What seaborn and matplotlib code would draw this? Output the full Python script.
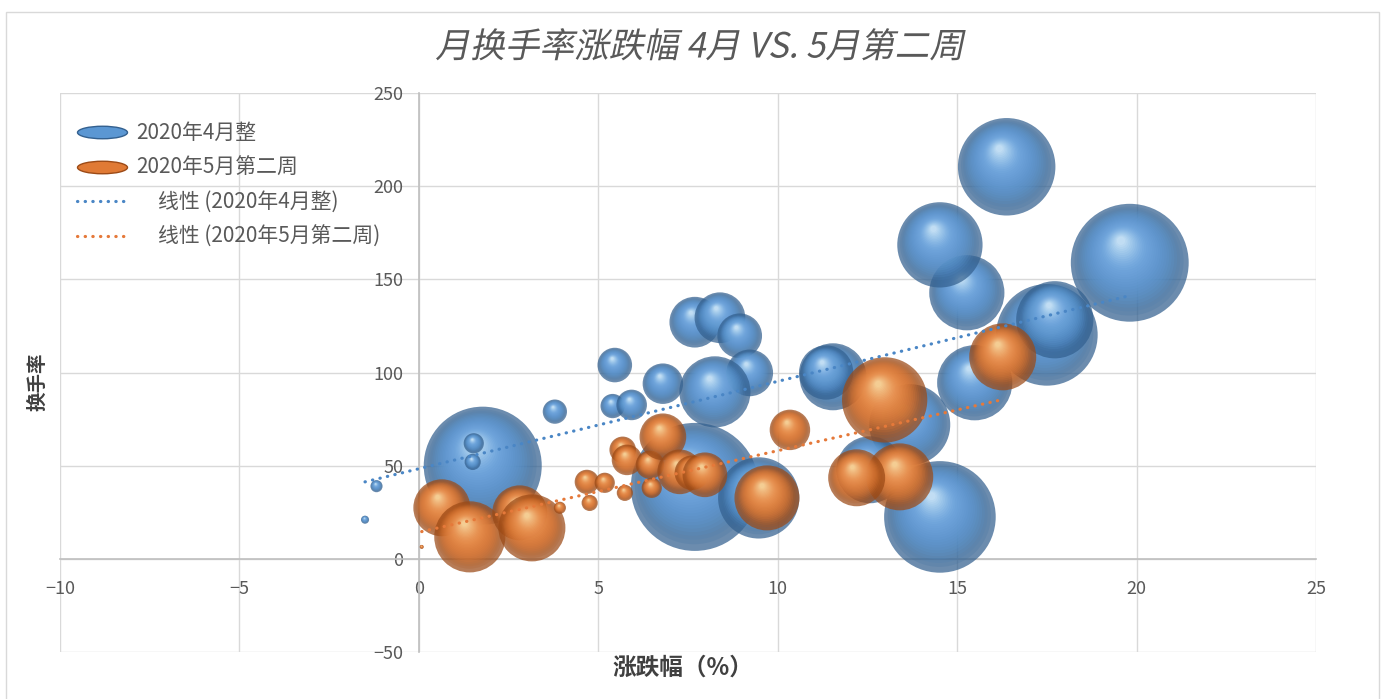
import numpy as np
import matplotlib
matplotlib.use("Agg")
import matplotlib.pyplot as plt
import seaborn as sns
from matplotlib.colors import to_rgba, LinearSegmentedColormap
from matplotlib.lines import Line2D
from matplotlib.path import Path
from matplotlib.patches import Rectangle
from matplotlib.patheffects import AbstractPathEffect
from matplotlib.transforms import Affine2D

# ---- data -------------------------------------------------------------
series_names = ["2020年4月整", "2020年5月第二周"]

# 2020年4月整: 涨跌幅(%), 换手率, bubble value
apr_x = [1.78, 1.53, 1.50, -1.18, -1.50, 3.79, 5.46, 5.40, 5.93, 6.80,
         7.69, 8.39, 8.94, 9.22, 8.25, 7.69, 9.47, 11.54, 11.35, 13.68,
         12.57, 14.52, 15.49, 15.27, 14.52, 16.38, 17.50, 17.72, 19.81]
apr_y = [50.0, 62.0, 52.0, 39.0, 21.0, 79.0, 104.0, 82.0, 82.6, 94.0,
         127.0, 129.4, 119.7, 99.8, 89.6, 38.6, 32.7, 97.7, 100.0, 72.0,
         47.8, 22.5, 94.5, 142.8, 168.5, 210.4, 120.2, 128.3, 158.9]
apr_size = [85, 2.5, 1.6, 0.9, 0.4, 3.6, 7.3, 3.6, 5.7, 10,
            15.7, 15.7, 12.2, 13.3, 30.9, 100, 40.3, 27.4, 18, 40,
            27.4, 76, 34.5, 34.5, 44.4, 58, 63, 36.4, 84.8]

# 2020年5月第二周
may_x = [0.64, 1.42, 2.81, 3.15, 3.93, 0.08, 4.68, 4.76, 5.18, 5.74,
         5.68, 5.80, 6.44, 6.49, 6.80, 7.27, 7.61, 7.97, 9.70, 10.34,
         12.98, 13.40, 12.20, 16.27]
may_y = [27.4, 11.8, 24.7, 16.6, 27.4, 6.4, 41.3, 30.0, 40.8, 35.4,
         58.5, 53.1, 50.5, 38.1, 65.5, 46.7, 46.2, 45.1, 32.7, 69.2,
         85.3, 44.0, 43.5, 108.4]
may_size = [19.8, 30.9, 18.4, 27.4, 0.9, 0.1, 3.6, 1.6, 2.5, 1.6,
            4.3, 5.7, 4.9, 2.5, 13.3, 12.2, 7.3, 12.2, 25.8, 10,
            44.4, 27.4, 19.8, 27.4]

title_text = "月换手率涨跌幅 4月 VS. 5月第二周"
x_title = "涨跌幅（%）"
y_title = "换手率"
x_ticks = [-10, -5, 0, 5, 10, 15, 20, 25]
y_ticks = [-50, 0, 50, 100, 150, 200, 250]

# ---- style ------------------------------------------------------------
sns.set_theme(style="white")
plt.rcParams["font.family"] = ["Noto Sans CJK SC", "DejaVu Sans"]

W, H, DPI = 1383, 699, 100
TXT = "#595959"
BLUE = dict(dark="#33608f", base="#5b97d3", mid="#78aee2", light="#e2f6ff")
ORANGE = dict(dark="#9c4a16", base="#e07a35", mid="#ee9a5a", light="#fde6b0")
BLUE_LINE = "#4a86c5"
ORANGE_LINE = "#e5793a"

fig = plt.figure(figsize=(W / DPI, H / DPI), dpi=DPI)
fig.patch.set_facecolor("white")
ax = fig.add_axes([60 / W, 1 - 652 / H, (1316 - 60) / W, (652 - 93) / H])
ax.set_xlim(-10, 25)
ax.set_ylim(-50, 250)

pos = ax.get_position()
px_per_x = pos.width * W / 35.0
px_per_y = pos.height * H / 300.0

v_max = max(max(apr_size), max(may_size))
R_MAX = 64.0  # radius in pixels of the largest bubble
N_LAYERS = 30


def draw_bubbles(xs, ys, vals, pal):
    """Each bubble is a stack of shrinking discs shifted toward the glint."""
    cmap = LinearSegmentedColormap.from_list(
        "shade", [(0.0, pal["dark"]), (0.12, pal["base"]),
                  (0.55, pal["mid"]), (1.0, pal["light"])])
    t = np.linspace(0, 1, N_LAYERS)
    frac = 1 - 0.93 * t ** 0.75
    alphas = np.where(t == 0, 0.72, 0.2)
    cols = [to_rgba(cmap(tt), a) for tt, a in zip(t, alphas)]
    for x0, y0, v in zip(xs, ys, vals):
        r = R_MAX * np.sqrt(v / v_max)
        lx = x0 + (-0.16 * (1 - frac) * r) / px_per_x
        ly = y0 + (0.4 * (1 - frac) * r) / px_per_y
        ls = (2 * r * frac * 72 / DPI) ** 2
        sns.scatterplot(x=lx, y=ly, s=ls, facecolors=cols, edgecolor="none",
                        linewidth=0, ax=ax, zorder=3, legend=False)


draw_bubbles(apr_x, apr_y, apr_size, BLUE)
draw_bubbles(may_x, may_y, may_size, ORANGE)

# linear trend lines
dot = (0, (0.1, 2.3))
for xs, ys, c in [(apr_x, apr_y, BLUE_LINE), (may_x, may_y, ORANGE_LINE)]:
    sns.regplot(x=np.array(xs), y=np.array(ys), scatter=False, ci=None,
                truncate=True, color=c, ax=ax,
                line_kws=dict(linestyle=dot, linewidth=2.3,
                              dash_capstyle="round", zorder=6))

ax.set_xlim(-10, 25)
ax.set_ylim(-50, 250)
ax.set_xticks(x_ticks)
ax.set_yticks(y_ticks)
ax.set_xlabel("")
ax.set_ylabel("")

# axes cross at the origin
for s in ["top", "right"]:
    ax.spines[s].set_visible(False)
ax.spines["left"].set_position(("data", 0))
ax.spines["bottom"].set_position(("data", 0))
for s in ["left", "bottom"]:
    ax.spines[s].set_color("#bfbfbf")
    ax.spines[s].set_linewidth(1.2)
    ax.spines[s].set_zorder(1)
ax.grid(True, color="#d9d9d9", linewidth=1)
ax.set_axisbelow(True)
ax.tick_params(axis="both", length=0, labelsize=13, colors=TXT)
ax.tick_params(axis="x", pad=15)
ax.tick_params(axis="y", pad=11)


class Slant(AbstractPathEffect):
    """Shear glyph outlines to give an oblique face."""

    def __init__(self, deg=12):
        super().__init__()
        self.deg = deg

    def draw_path(self, renderer, gc, tpath, affine, rgbFace=None):
        renderer.draw_path(gc, tpath, Affine2D().skew_deg(self.deg, 0) + affine,
                           rgbFace)


fig.text(0.506, 1 - 48 / H, title_text, ha="center", va="center",
         fontsize=25, color=TXT, path_effects=[Slant(12)])
fig.text(683 / W, 1 - 668 / H, x_title, ha="center", va="center",
         fontsize=17, fontweight="bold", color="#404040")
fig.text(38 / W, 1 - 382 / H, y_title, ha="center", va="center",
         rotation=90, fontsize=14, fontweight="bold", color="#404040")

# legend: bubble series, then trend lines
oval = Path(Affine2D().scale(1, 0.25).transform(Path.unit_circle().vertices),
            Path.unit_circle().codes)
bubble_handles = [
    Line2D([], [], linestyle="none", marker=oval, markersize=36,
           markerfacecolor=pal["base"], markeredgecolor=pal["dark"])
    for pal in (BLUE, ORANGE)
]
line_handles = [
    Line2D([], [], color=c, linestyle=dot, linewidth=2.3, dash_capstyle="round")
    for c in (BLUE_LINE, ORANGE_LINE)
]
common = dict(loc="upper left", frameon=False, fontsize=15, labelcolor=TXT,
              handlelength=2.4, labelspacing=0.62, borderpad=0,
              borderaxespad=0)
leg1 = fig.legend(bubble_handles, series_names,
                  bbox_to_anchor=(77 / W, 1 - 122 / H),
                  handletextpad=0.45, **common)
leg2 = fig.legend(line_handles,
                  [f"线性 ({n})" for n in series_names],
                  bbox_to_anchor=(77 / W, 1 - 191 / H),
                  handletextpad=1.5, **common)

# outer chart border
fig.add_artist(Rectangle((6 / W, -0.02), (1379 - 6) / W, 1.02 - 12 / H,
                         transform=fig.transFigure, fill=False,
                         edgecolor="#d9d9d9", linewidth=1))

fig.savefig("out.png", dpi=DPI)
